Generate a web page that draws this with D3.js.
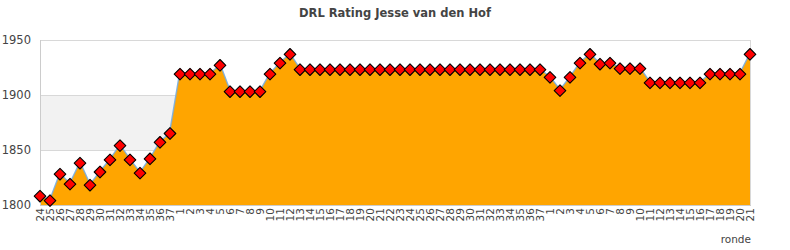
<!DOCTYPE html>
<html><head><meta charset="utf-8">
<script src="https://cdn.jsdelivr.net/npm/d3@7"></script>
<style>body{margin:0;background:#fff}svg{display:block;font-family:"DejaVu Sans",Verdana,sans-serif}</style>
</head><body>
<svg id="c" width="790" height="250"></svg>
<script>
const rounds = [24,25,26,27,28,29,30,31,32,33,34,35,36,37,
 1,2,3,4,5,6,7,8,9,10,11,12,13,14,15,16,17,18,19,20,21,22,23,24,25,26,27,28,29,30,31,32,33,34,35,36,37,
 1,2,3,4,5,6,7,8,9,10,11,12,13,14,15,16,17,18,19,20,21];
const ratings = [1808,1804,1828,1819,1838,1818,1830,1841,1854,1841,1829,1842,1857,1865,
 1919,1919,1919,1919,1927,1903,1903,1903,1903,1919,1929,1937,1923,1923,1923,1923,1923,1923,1923,1923,1923,1923,1923,1923,1923,1923,1923,1923,1923,1923,1923,1923,1923,1923,1923,1923,1923,
 1916,1904,1916,1929,1937,1928,1929,1924,1924,1924,1911,1911,1911,1911,1911,1911,1919,1919,1919,1919,1937];
const yTicks = [1800,1850,1900,1950];
const title = "DRL Rating Jesse van den Hof";
const xTitle = "ronde";

const svg = d3.select("#c");
const L=40,R=750,T=40,B=205;
const idx = d3.range(ratings.length);
const x = d3.scaleLinear().domain([0, ratings.length-1]).range([L,R]);
const y = d3.scaleLinear().domain([1800,1950]).range([B,T]);

svg.append("rect").attr("x",L).attr("y",y(1900)).attr("width",R-L).attr("height",y(1850)-y(1900)).attr("fill","#f2f2f2");
svg.append("g").selectAll("line").data(yTicks.slice(1)).join("line")
  .attr("x1",L).attr("x2",R).attr("y1",d=>y(d)+0.5).attr("y2",d=>y(d)+0.5)
  .attr("stroke","#d8d8d8");
svg.append("line").attr("x1",R+0.5).attr("x2",R+0.5).attr("y1",T).attr("y2",B).attr("stroke","#d8d8d8");

const line = d3.line().x(i=>x(i)).y(i=>y(ratings[i]));
const area = d3.area().x(i=>x(i)).y0(y(1800)).y1(i=>y(ratings[i]));
svg.append("path").attr("d",line(idx)).attr("fill","none").attr("stroke","#7cb5ec").attr("stroke-width",2.5);
svg.append("path").attr("d",area(idx)).attr("fill","#ffa500");
svg.append("path").attr("d",line(idx)).attr("fill","none").attr("stroke","#a9a58a").attr("stroke-width",0.8).attr("opacity",0.6);

svg.append("line").attr("x1",L+0.5).attr("x2",L+0.5).attr("y1",T).attr("y2",B).attr("stroke","#cccccc");
svg.append("line").attr("x1",L).attr("x2",R+1).attr("y1",B+0.5).attr("y2",B+0.5).attr("stroke","#cccccc");

svg.append("g").selectAll("path").data(idx).join("path")
  .attr("transform",i=>`translate(${x(i)},${y(ratings[i])})`)
  .attr("d","M0,-5.8L5.8,0L0,5.8L-5.8,0Z")
  .attr("fill","#ff0000").attr("stroke","#000").attr("stroke-width",1.1).attr("stroke-linejoin","round");

svg.append("g").selectAll("text").data(yTicks).join("text")
  .attr("x",31).attr("y",d=>y(d)+4).attr("text-anchor","end")
  .attr("font-size",11.5).attr("fill","#444").text(d=>d);

svg.append("g").selectAll("text").data(idx).join("text")
  .attr("transform",i=>`translate(${x(i)+4},208) rotate(-90)`)
  .attr("text-anchor","end").attr("font-size",10.5).attr("fill","#444")
  .text(i=>rounds[i]);

svg.append("text").attr("x",751).attr("y",243).attr("text-anchor","end")
  .attr("font-size",10.5).attr("fill","#444").text(xTitle);
svg.append("text").attr("x",395).attr("y",17).attr("text-anchor","middle")
  .attr("font-size",11.5).attr("font-weight","bold").attr("fill","#444").text(title);
</script>
</body></html>
